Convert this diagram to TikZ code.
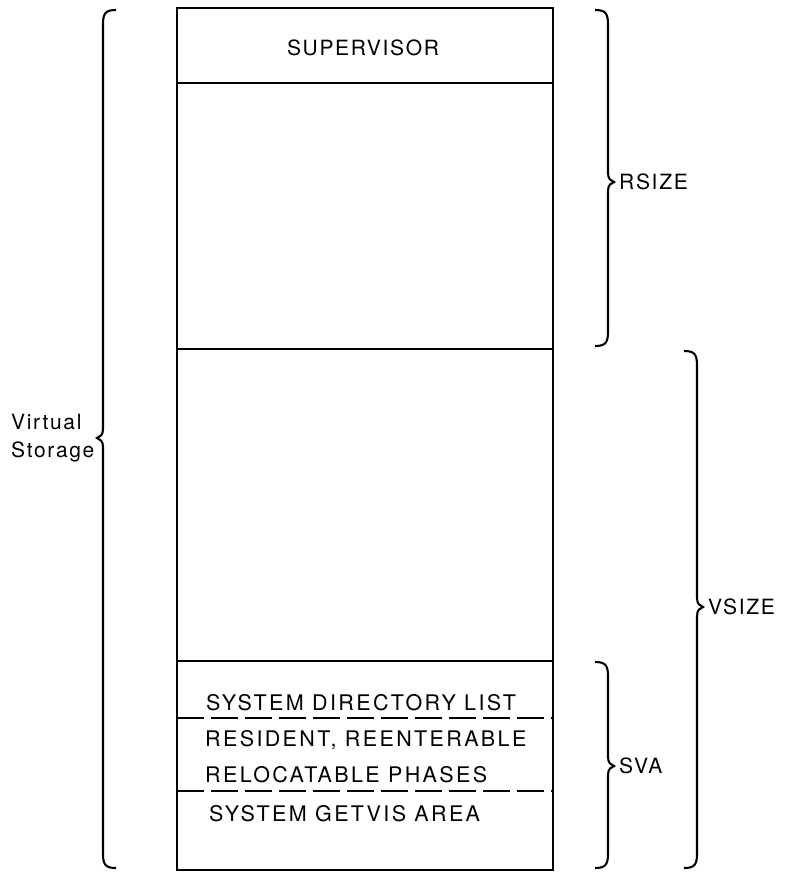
\documentclass[tikz,border=0pt]{standalone}
\usepackage{fontspec}
\newfontfamily\labfont{TeX Gyre Heros}[LetterSpace=8]
\newfontfamily\svafont{TeX Gyre Heros}[LetterSpace=11]
\newcommand\BraceRight[4]{% x, top, mid, bottom
  \draw[brc] (#1-13,#2) .. controls (#1-3,#2) and (#1,#2+3) .. (#1,#2+14)
    -- (#1,#3-9) .. controls (#1,#3-3) and (#1+3,#3-1) .. (#1+6,#3)
    .. controls (#1+3,#3+1) and (#1,#3+3) .. (#1,#3+9)
    -- (#1,#4-14) .. controls (#1,#4-3) and (#1-3,#4) .. (#1-13,#4);}
\newcommand\BraceLeft[4]{% x, top, mid, bottom
  \draw[brc] (#1+13,#2) .. controls (#1+3,#2) and (#1,#2+3) .. (#1,#2+14)
    -- (#1,#3-9) .. controls (#1,#3-3) and (#1-3,#3-1) .. (#1-6,#3)
    .. controls (#1-3,#3+1) and (#1,#3+3) .. (#1,#3+9)
    -- (#1,#4-14) .. controls (#1,#4-3) and (#1+3,#4) .. (#1+13,#4);}
\begin{document}
\begin{tikzpicture}[x=1bp,y=-1bp,
  part/.style={draw, line width=2.8bp, minimum width=376bp, inner sep=0pt, outer sep=0pt},
  lbl/.style={font=\labfont\fontsize{21bp}{28bp}\selectfont, inner sep=0pt},
  svalbl/.style={font=\svafont\fontsize{21.5bp}{28bp}\selectfont, inner sep=0pt, anchor=base west},
  dline/.style={line width=1.7bp, dash pattern=on 27bp off 7bp},
  brc/.style={line width=2.1bp}]
\useasboundingbox (0,0) rectangle (785,874);
% memory sections
\node[part, minimum height=75bp]  (sup) at (365,45.5) {};
\node[part, minimum height=266bp] (rsz) at (365,216) {};
\node[part, minimum height=312bp] (mid) at (365,505) {};
\node[part, minimum height=209bp] (sva) at (365,765.5) {};
% dashed dividers in SVA
\coordinate (d1l) at (177,718); \coordinate (d1r) at (553,718);
\coordinate (d2l) at (177,791); \coordinate (d2r) at (553,791);
\draw[dline] (d1l) -- (d1r);
\draw[dline] (d2l) -- (d2r);
% texts
\node[lbl] (tsup) at (363,48) {SUPERVISOR};
\node[svalbl] (tsdl) at (206,710) {SYSTEM DIRECTORY LIST};
\node[svalbl] (tres) at (205,746) {RESIDENT, REENTERABLE};
\node[svalbl] (trel) at (205,782) {RELOCATABLE PHASES};
\node[svalbl] (tget) at (209,821) {SYSTEM GETVIS AREA};
% braces
\BraceLeft{103}{10}{438}{868}
\BraceRight{608}{10}{182}{346}
\BraceRight{697}{351}{607}{868}
\BraceRight{608}{662}{766}{868}
% brace labels
\node[lbl, align=left, anchor=west] (tvs) at (11,438) {Virtual\\Storage};
\node[lbl, anchor=west] (trs) at (619,182) {RSIZE};
\node[lbl, anchor=west] (tvz) at (708,607) {VSIZE};
\node[lbl, anchor=west] (tsv) at (619,766) {SVA};
\end{tikzpicture}
\end{document}
